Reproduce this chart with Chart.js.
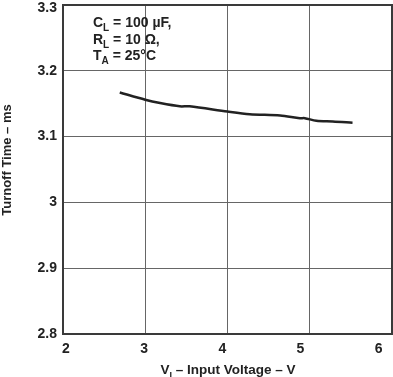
<!DOCTYPE html>
<html><head><meta charset="utf-8">
<script src="https://cdn.jsdelivr.net/npm/chart.js@4/dist/chart.umd.min.js"></script>
<style>html,body{margin:0;padding:0;background:#fff}#wrap{width:393px;height:377px}</style>
</head><body><div id="wrap"><canvas id="c" width="393" height="377"></canvas></div>
<script>
const inputVoltage = [2.69, 3.0, 3.18, 3.42, 3.54, 4.0, 4.27, 4.64, 4.88, 4.94, 5.08, 5.28, 5.52];
const turnoffTime  = [3.167, 3.156, 3.151, 3.146, 3.146, 3.138, 3.134, 3.132, 3.128, 3.128, 3.124, 3.123, 3.121];
const xTicks = [2, 3, 4, 5, 6];
const xTickLabels = ["2", "3", "4", "5", "6"];
const yTicks = [2.8, 2.9, 3.0, 3.1, 3.2, 3.3];
const yTickLabels = ["2.8", "2.9", "3", "3.1", "3.2", "3.3"];

const FONT = "'Liberation Sans', Arial, sans-serif";

function drawSub(ctx, parts, x, y, size) {
  let cx = x;
  for (const [t, sub] of parts) {
    ctx.font = "bold " + (sub ? Math.round(size * 0.7) : size) + "px " + FONT;
    ctx.fillText(t, cx, y + (sub ? size * 0.3 : 0));
    cx += ctx.measureText(t).width;
  }
  return cx - x;
}
function widthSub(ctx, parts, size) {
  let w = 0;
  for (const [t, sub] of parts) {
    ctx.font = "bold " + (sub ? Math.round(size * 0.7) : size) + "px " + FONT;
    w += ctx.measureText(t).width;
  }
  return w;
}

const textPlugin = {
  id: 'texts',
  afterDraw(chart) {
    const ctx = chart.ctx;
    const ca = chart.chartArea;
    const xs = chart.scales.x, ys = chart.scales.y;
    // frame
    ctx.save();
    ctx.strokeStyle = '#3a3a3a';
    ctx.lineWidth = 2;
    ctx.strokeRect(ca.left, ca.top, ca.right - ca.left, ca.bottom - ca.top);
    ctx.restore();

    ctx.save();
    ctx.fillStyle = '#222';
    // tick labels
    ctx.font = "bold 14px " + FONT;
    ctx.textAlign = 'right';
    ctx.textBaseline = 'middle';
    yTicks.forEach((v, i) => {
      const py = Math.max(ys.getPixelForValue(v), 8);
      ctx.fillText(yTickLabels[i], ca.left - 6, py);
    });
    ctx.textAlign = 'center';
    ctx.textBaseline = 'top';
    xTicks.forEach((v, i) => {
      const px = xs.getPixelForValue(v);
      const lx = ca.left + 3 + (px - ca.left) * 0.95;
      ctx.fillText(xTickLabels[i], lx, ca.bottom + 8);
    });

    ctx.textBaseline = 'alphabetic';
    ctx.textAlign = 'left';
    // annotation
    const s = 14;
    drawSub(ctx, [["C", 0], ["L", 1], [" = 100 \u00b5F,", 0]], 93, 27, s);
    drawSub(ctx, [["R", 0], ["L", 1], [" = 10 \u03a9,", 0]], 93, 44, s);
    drawSub(ctx, [["T", 0], ["A", 1], [" = 25\u00b0C", 0]], 93, 60, s);
    // x title
    const xt = [["V", 0], ["I", 1], [" \u2013 Input Voltage \u2013 V", 0]];
    const w = widthSub(ctx, xt, 13.5);
    drawSub(ctx, xt, 228 - w / 2, 374, 13.5);
    // y title
    ctx.translate(11, 160);
    ctx.rotate(-Math.PI / 2);
    ctx.font = "bold 13px " + FONT;
    ctx.textAlign = 'center';
    ctx.fillText("Turnoff Time \u2013 ms", 0, 0);
    ctx.restore();
  }
};

new Chart(document.getElementById('c'), {
  type: 'scatter',
  data: {
    datasets: [{
      data: inputVoltage.map((v, i) => ({x: v, y: turnoffTime[i]})),
      showLine: true,
      borderColor: '#222',
      borderWidth: 2.5,
      pointRadius: 0,
      tension: 0.3,
      fill: false
    }]
  },
  options: {
    responsive: false,
    animation: false,
    devicePixelRatio: 1,
    layout: {padding: {top: 5, right: 1, left: 0, bottom: 0}},
    plugins: {legend: {display: false}, tooltip: {enabled: false}},
    scales: {
      x: {
        type: 'linear', min: 2, max: 6,
        afterBuildTicks(axis) { axis.ticks = xTicks.map(v => ({value: v})); },
        afterFit(axis) { axis.height = 43; },
        grid: {color: '#666', lineWidth: 1, drawTicks: false},
        border: {display: false},
        ticks: {display: false}
      },
      y: {
        type: 'linear', min: 2.8, max: 3.3,
        afterBuildTicks(axis) { axis.ticks = yTicks.map(v => ({value: v})); },
        afterFit(axis) { axis.width = 63; },
        grid: {color: '#666', lineWidth: 1, drawTicks: false},
        border: {display: false},
        ticks: {display: false}
      }
    }
  },
  plugins: [textPlugin]
});
</script>
</body></html>
